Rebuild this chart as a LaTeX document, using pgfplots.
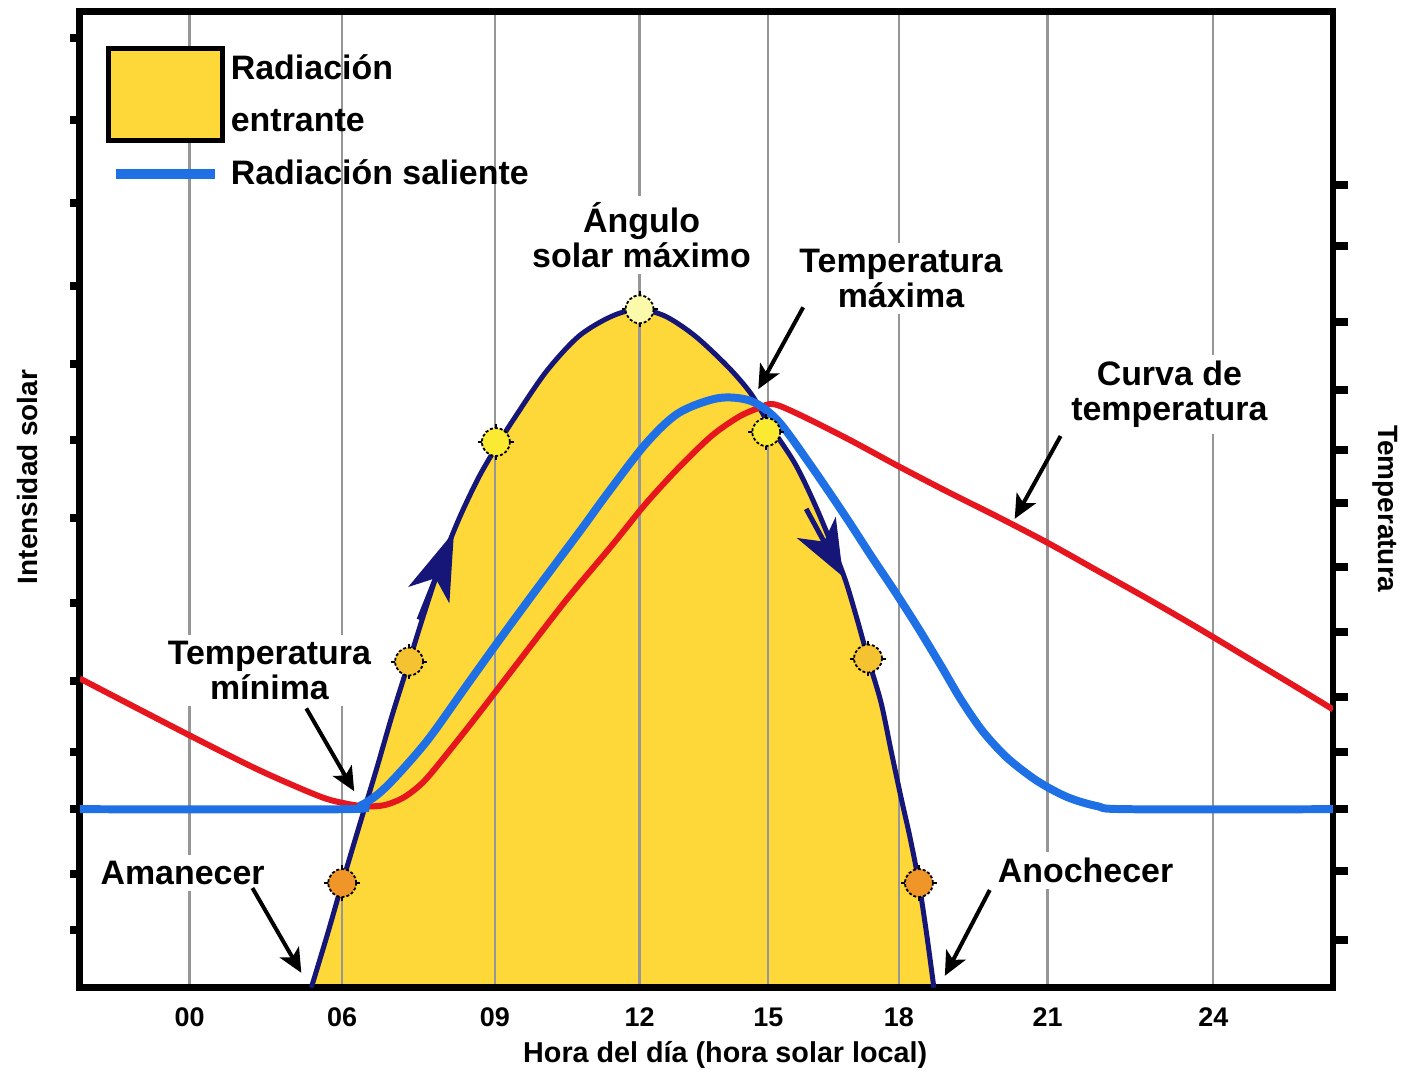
\documentclass[border=0pt]{standalone}
\usepackage{fontspec}
\setmainfont{Liberation Sans}
\usepackage{pgfplots}
\pgfplotsset{compat=1.18}
\usetikzlibrary{arrows.meta}
\definecolor{fillY}{RGB}{253,216,56}
\definecolor{navyC}{RGB}{22,22,120}
\definecolor{blueC}{RGB}{30,112,228}
\definecolor{redC}{RGB}{230,22,30}
\definecolor{gridC}{RGB}{150,150,150}
\definecolor{mOrange}{RGB}{240,150,40}
\definecolor{mGold}{RGB}{245,195,50}
\definecolor{mYellow}{RGB}{250,235,50}
\definecolor{mPale}{RGB}{250,250,170}
\newcommand{\fsTick}{\fontsize{13.5bp}{15bp}\selectfont\bfseries}
\newcommand{\fsLab}{\fontsize{14.4bp}{16bp}\selectfont\bfseries}
\newcommand{\fsY}{\fontsize{14bp}{16bp}\selectfont\bfseries}
\newcommand{\fsAnn}{\fontsize{17bp}{17.5bp}\selectfont\bfseries}
\newcommand{\fsLeg}{\fontsize{17bp}{26bp}\selectfont\bfseries}
\pgfplotstableread{
x y
312 75
328 128
343 180
360 237
377 293
393 348
410 402
425 450
440 495
460 545
480 587
498 618
513 642
547 692
580 728
613 748
640 755
667 748
697 728
730 697
753 670
770 641
797 600
820 552
845 490
858 448
870 405
883 361
893 313
903 266
912 226
921 180
929 127
936 75
}\incoming
\pgfplotstableread{
x y
80 254
345 254
362 258
380 270
400 290
430 325
467 377
500 423
533 468
583 535
607 568
647 620
680 651
720 666
753 663
780 643
813 598
847 548
873 508
897 472
920 436
943 398
963 364
985 332
1010 305
1040 282
1070 266
1100 257
1130 254
1336 254
}\outgoing
\pgfplotstableread{
x y
80 385
190 328
260 293
320 267
345 260
365 257
385 258
405 266
425 282
450 312
480 350
513 393
567 463
613 518
647 560
680 596
713 628
740 647
760 656
775 660
800 650
850 625
900 598
950 572
1000 547
1050 521
1100 493
1150 465
1200 436
1250 406
1300 376
1336 354
}\temperature
\begin{document}
\begin{tikzpicture}
\begin{axis}[
  set layers,
  x=0.5bp, y=0.5bp,
  xmin=80, xmax=1336, ymin=75, ymax=1053,
  axis line style={line width=3.5bp, black},
  xtick={190,343,496,641,770,901,1050,1216},
  xticklabels={00,06,09,12,15,18,21,24},
  xmajorgrids,
  grid style={draw=gridC, line width=1.2bp},
  xtick style={draw=none},
  ytick={133,189,254,311,382,461,546,624,700,778,862,945,1027},
  yticklabels={},
  ytick pos=left,
  tick align=outside,
  major tick length=4.75bp,
  ytick style={line width=4bp, black},
  x tick label style={font=\fsTick, anchor=center, yshift=-10bp},
  xlabel={Hora del día (hora solar local)},
  ylabel={Intensidad solar},
  every axis x label/.style={at={(axis description cs:0.515,-0.0685)}, anchor=center, font=\fsLab},
  every axis y label/.style={at={(axis description cs:-0.0414,0.5235)}, anchor=center, rotate=90, font=\fsY},
  legend cell align=left,
  legend style={at={(axis cs:106,1019)}, anchor=north west, draw=none, fill=none,
    inner sep=0pt, font=\fsLeg, row sep=6.5bp, column sep=1bp,
    cells={align=left}, nodes={inner sep=2bp}},
]
% incoming radiation (area)
\addplot[on layer=axis background, fill=fillY, draw=none, smooth, tension=0.5,
  legend image code/.code={\draw[fill=fillY, draw=black, line width=2.5bp] (0bp,-23bp) rectangle (57bp,23bp);}]
  table {\incoming} -- cycle;
\addlegendentry{Radiación\\entrante}
% outline of incoming radiation
\addplot[forget plot, navyC, line width=2.5bp, smooth, tension=0.5] table {\incoming};
% navy direction arrows
\addplot[forget plot, navyC, line width=2.5bp, -{Stealth[length=34bp,width=22bp,inset=9bp]}]
  coordinates {(420,444) (455,532)};
\addplot[forget plot, navyC, line width=2.5bp, -{Stealth[length=28bp,width=22bp,inset=8bp]}]
  coordinates {(808,555) (845,487)};
% sun markers
\addplot[forget plot, only marks, mark=+, mark size=9bp, mark options={line width=1bp, black}]
  coordinates {(343,180) (410,402) (497,622) (641,755) (768,632) (870,405) (921,180)};
\addplot[forget plot, only marks, mark=x, mark size=6.5bp, mark options={line width=1bp, black}]
  coordinates {(343,180) (410,402) (497,622) (641,755) (768,632) (870,405) (921,180)};
\addplot[forget plot, only marks, mark=*, mark size=7bp, mark options={draw=black, line width=0.9bp, dash pattern=on 1.5bp off 1bp, fill=mOrange}]
  coordinates {(343,180) (921,180)};
\addplot[forget plot, only marks, mark=*, mark size=7bp, mark options={draw=black, line width=0.9bp, dash pattern=on 1.5bp off 1bp, fill=mGold}]
  coordinates {(410,402) (870,405)};
\addplot[forget plot, only marks, mark=*, mark size=7bp, mark options={draw=black, line width=0.9bp, dash pattern=on 1.5bp off 1bp, fill=mYellow}]
  coordinates {(497,622) (768,632)};
\addplot[forget plot, only marks, mark=*, mark size=7bp, mark options={draw=black, line width=0.9bp, dash pattern=on 1.5bp off 1bp, fill=mPale}]
  coordinates {(641,755)};
% temperature curve
\addplot[forget plot, redC, line width=3bp, smooth, tension=0.5] table {\temperature};
% outgoing radiation
\addplot[blueC, line width=4bp, smooth, tension=0.5,
  legend image code/.code={\draw[blueC, line width=5bp] (3.5bp,0bp) -- (53.5bp,0bp);}]
  table {\outgoing};
\addlegendentry{Radiación saliente}
% annotations
\node[font=\fsAnn, align=center, fill=white, inner sep=3bp] at (axis cs:643,829.5) {Ángulo\\solar máximo};
\node[font=\fsAnn, align=center, fill=white, inner sep=3bp] at (axis cs:903,786) {Temperatura\\máxima};
\node[font=\fsAnn, align=center, fill=white, inner sep=3bp] at (axis cs:1172,669.5) {Curva de\\temperatura};
\node[font=\fsAnn, align=center, fill=white, inner sep=3bp] at (axis cs:270,393) {Temperatura\\mínima};
\node[font=\fsAnn, fill=white, inner sep=3bp] at (axis cs:183,190) {Amanecer};
\node[font=\fsAnn, fill=white, inner sep=3bp] at (axis cs:1088,193) {Anochecer};
\draw[black, line width=2bp, -{Stealth[length=12bp,width=11bp,inset=3bp]}] (axis cs:805,757) -- (axis cs:760,675);
\draw[black, line width=2bp, -{Stealth[length=12bp,width=11bp,inset=3bp]}] (axis cs:1063,628) -- (axis cs:1017,545);
\draw[black, line width=2bp, -{Stealth[length=12bp,width=11bp,inset=3bp]}] (axis cs:307,355) -- (axis cs:355,272);
\draw[black, line width=2bp, -{Stealth[length=12bp,width=11bp,inset=3bp]}] (axis cs:253,175) -- (axis cs:302,90);
\draw[black, line width=2bp, -{Stealth[length=12bp,width=11bp,inset=3bp]}] (axis cs:992,173) -- (axis cs:947,87);
\end{axis}
\begin{axis}[
  x=0.5bp, y=0.5bp,
  xmin=80, xmax=1336, ymin=75, ymax=1053,
  axis x line=none, axis y line*=right,
  y axis line style={draw=none},
  xtick=\empty,
  ytick={123,192,254,311,366,432,497,561,614,674,742,818,880},
  yticklabels={},
  tick align=outside,
  major tick length=7.75bp,
  ytick style={line width=4bp, black},
  ylabel={Temperatura},
  every axis y label/.style={at={(axis description cs:1.0414,0.4908)}, anchor=center, rotate=-90, font=\fsY},
]
\addplot[draw=none, forget plot] coordinates {(80,75) (1336,1053)};
\end{axis}
\path (-40bp,-37.5bp) rectangle (662bp,495bp);
\end{tikzpicture}
\end{document}
